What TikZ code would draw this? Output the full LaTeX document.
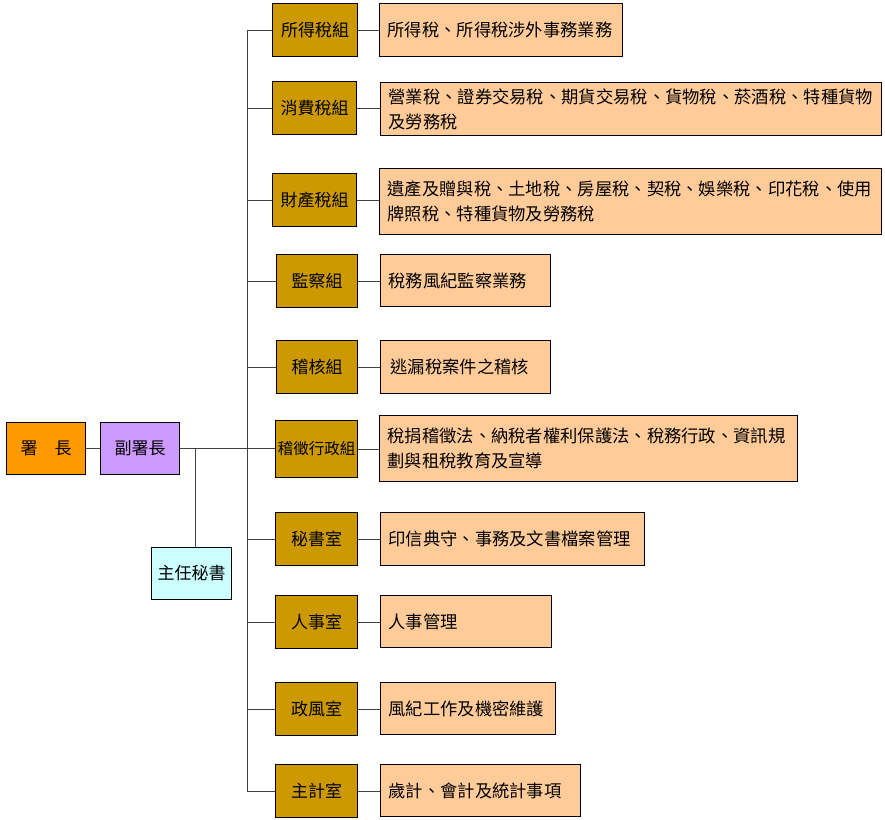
\documentclass[tikz,border=0pt]{standalone}
\usepackage{fontspec}
\setmainfont{Noto Sans CJK TC}
\definecolor{cGold}{HTML}{CC9900}
\definecolor{cPeach}{HTML}{FFCC99}
\definecolor{cOrange}{HTML}{FF9900}
\definecolor{cLilac}{HTML}{CC99FF}
\definecolor{cCyan}{HTML}{CCFFFF}
\definecolor{cLine}{HTML}{404040}
\begin{document}
\begin{tikzpicture}[x=1pt,y=-1pt,
  box/.style={draw=black,line width=1pt,anchor=north west,inner sep=0pt,font=\fontsize{17}{20}\selectfont},
  unit/.style={box,fill=cGold,minimum width=#1,minimum height=53pt},
  duty/.style={box,fill=cPeach,align=left,inner xsep=8pt,text width=#1,font=\fontsize{17.3}{25}\selectfont},
  conn/.style={draw=cLine,line width=1pt}]
\useasboundingbox (0,0) rectangle (885,819);
% top-level
\node[box,fill=cOrange,minimum width=79pt,minimum height=52pt] (chief) at (6,422) {署\hspace{1em}長};
\node[box,fill=cLilac,minimum width=79pt,minimum height=52pt] (deputy) at (100,422) {副署長};
\node[box,fill=cCyan,minimum width=80pt,minimum height=52pt] (secgen) at (151,547) {主任秘書};
% units
\node[unit=85pt] (u1) at (272,3) {所得稅組};
\node[unit=84pt] (u2) at (272,81) {消費稅組};
\node[unit=84pt] (u3) at (272,173) {財產稅組};
\node[unit=81pt] (u4) at (276,254) {監察組};
\node[unit=81pt] (u5) at (276,340) {稽核組};
\node[unit=82pt,minimum height=57pt,font=\fontsize{15.5}{20}\selectfont] (u6) at (275,420) {稽徵行政組};
\node[unit=82pt] (u7) at (275,512) {秘書室};
\node[unit=82pt] (u8) at (275,595) {人事室};
\node[unit=82pt] (u9) at (275,682) {政風室};
\node[unit=82pt] (u10) at (275,764) {主計室};
% duties
\node[duty=227pt,minimum height=53pt] (d1) at (379,3) {所得稅、所得稅涉外事務業務};
\node[duty=485pt,minimum height=53pt] (d2) at (380,82) {營業稅、證券交易稅、期貨交易稅、貨物稅、菸酒稅、特種貨物\\及勞務稅};
\node[duty=486pt,minimum height=66pt] (d3) at (379,168) {遺產及贈與稅、土地稅、房屋稅、契稅、娛樂稅、印花稅、使用\\牌照稅、特種貨物及勞務稅};
\node[duty=154pt,minimum height=52pt] (d4) at (380,254) {稅務風紀監察業務};
\node[duty=154pt,minimum height=53pt] (d5) at (380,340) {\hspace{2pt}逃漏稅案件之稽核};
\node[duty=402pt,minimum height=66pt] (d6) at (379,415) {稅捐稽徵法、納稅者權利保護法、稅務行政、資訊規\\劃與租稅教育及宣導};
\node[duty=248pt,minimum height=53pt] (d7) at (380,512) {印信典守、事務及文書檔案管理};
\node[duty=155pt,minimum height=52pt] (d8) at (380,595) {人事管理};
\node[duty=159pt,minimum height=52pt] (d9) at (380,682) {風紀工作及機密維護};
\node[duty=184pt,minimum height=52pt] (d10) at (380,764) {歲計、會計及統計事項};
% connectors
\draw[conn] (chief.east) -- (deputy.west);
\coordinate (tk) at (247,0);
\coordinate (br) at (195,0);
\draw[conn] (deputy.east) -- (u6.west |- deputy.east);
\draw[conn] (br |- deputy.east) -- (br |- secgen.north);
\draw[conn] (tk |- u1.west) -- (tk |- u10.west);
\foreach \i in {1,2,3,4,5,7,8,9,10}{
  \draw[conn] (tk |- u\i.west) -- (u\i.west);
}
\foreach \i in {1,2,3,4,5,6,7,8,9,10}{
  \draw[conn] (u\i.east) -- (d\i.west |- u\i.east);
}
\end{tikzpicture}
\end{document}
